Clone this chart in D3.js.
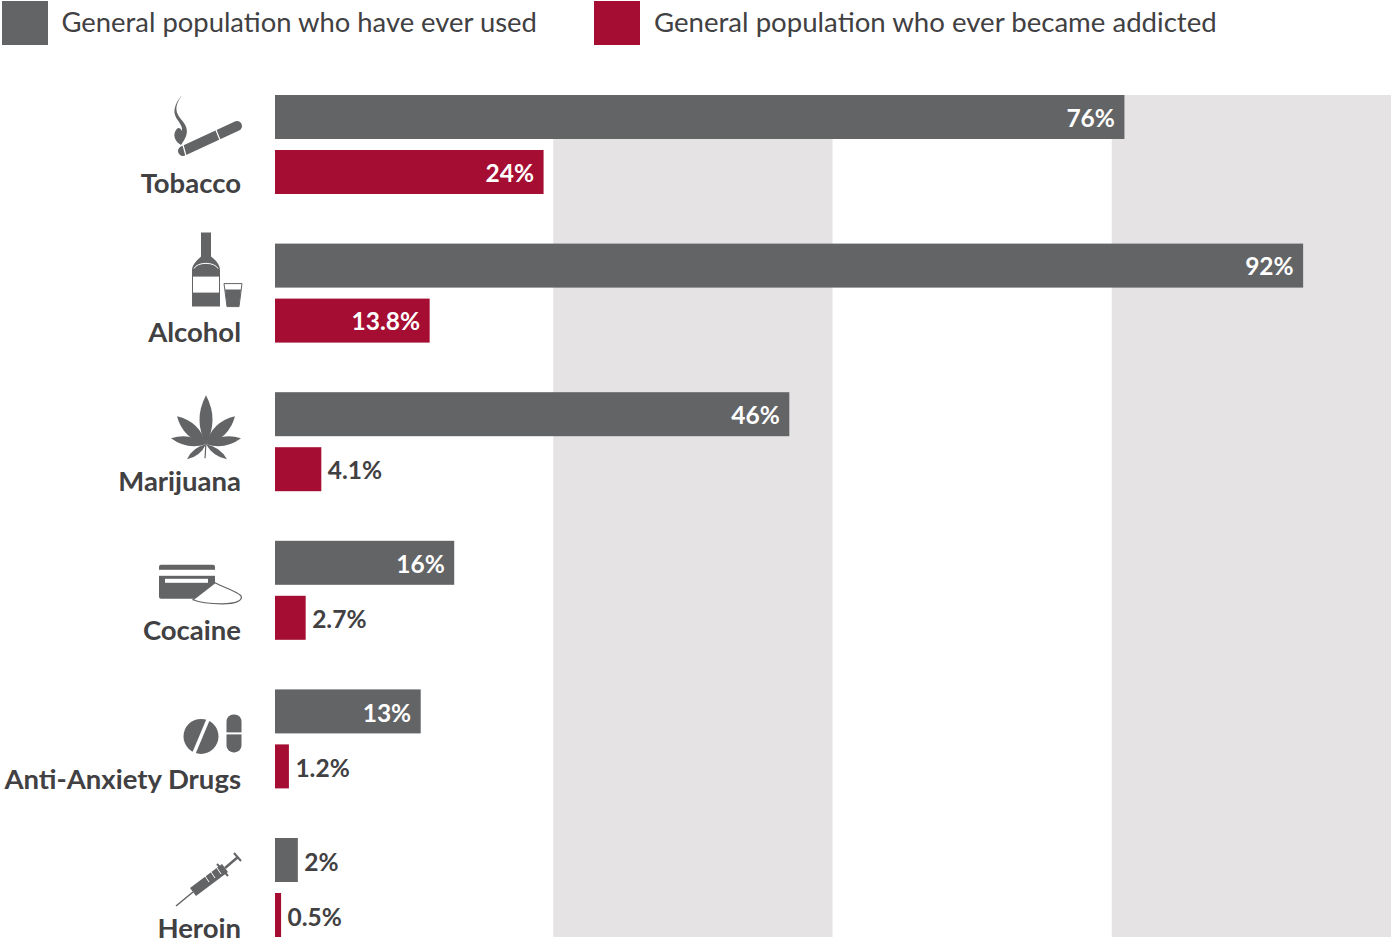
<!DOCTYPE html>
<html>
<head>
<meta charset="utf-8">
<title>Ever used and ever addicted</title>
<script src="https://cdnjs.cloudflare.com/ajax/libs/d3/7.8.5/d3.min.js"></script>
<style>
  html, body { margin: 0; padding: 0; background: #fff; }
  svg { display: block; }
  text { font-family: Lato, "Open Sans", sans-serif; }
</style>
</head>
<body>
<div id="chart"></div>
<script>
var categories = ["Tobacco", "Alcohol", "Marijuana", "Cocaine", "Anti-Anxiety Drugs", "Heroin"];
var everUsed = [76, 92, 46, 16, 13, 2];
var everAddicted = [24, 13.8, 4.1, 2.7, 1.2, 0.5];
var usedLabels = ["76%", "92%", "46%", "16%", "13%", "2%"];
var addictedLabels = ["24%", "13.8%", "4.1%", "2.7%", "1.2%", "0.5%"];
var seriesNames = ["General population who have ever used", "General population who ever became addicted"];
var bandStarts = [25, 75];
var bandSize = 25;

var grey = "#636466", red = "#a50d33", bandColor = "#e5e3e4", ink = "#414042";

var width = 1393, height = 940;
var svg = d3.select("#chart").append("svg")
  .attr("width", width)
  .attr("height", height);

var x = d3.scaleLinear().domain([0, 100]).range([275, 1392]);
var y = d3.scaleBand().domain(categories).range([95, 95 + 148.6 * 6]);
var inner = d3.scaleBand().domain(["used", "addicted"]).range([0, 99]).paddingInner(0.2);
var bottom = 937;

// background stripes
svg.selectAll("rect.band")
  .data(bandStarts)
  .enter().append("rect")
  .attr("class", "band")
  .attr("x", function(d) { return x(d) - 1; })
  .attr("y", 95)
  .attr("width", function(d) { return x(d + bandSize) - x(d); })
  .attr("height", bottom - 95)
  .attr("fill", bandColor);

// legend
var legendX = [2, 594];
var legend = svg.selectAll("g.legend")
  .data(seriesNames)
  .enter().append("g")
  .attr("class", "legend")
  .attr("transform", function(d, i) { return "translate(" + legendX[i] + ",1)"; });
legend.append("rect")
  .attr("width", 46)
  .attr("height", 44)
  .attr("fill", function(d, i) { return i == 0 ? grey : red; });
legend.append("text")
  .attr("x", function(d, i) { return i == 0 ? 59.5 : 60; })
  .attr("y", 31)
  .attr("font-size", function(d, i) { return i == 0 ? 27.4 : 27.6; })
  .attr("fill", ink)
  .text(function(d) { return d; });

// bars
function drawBars(values, labels, key, color) {
  var rows = svg.selectAll("g." + key)
    .data(categories)
    .enter().append("g")
    .attr("class", key)
    .attr("transform", function(d) { return "translate(0," + (y(d) + inner(key)) + ")"; });
  rows.append("rect")
    .attr("x", x(0))
    .attr("width", function(d, i) { return x(values[i]) - x(0) + 0.5; })
    .attr("height", inner.bandwidth())
    .attr("fill", color);
  rows.append("text")
    .attr("x", function(d, i) {
      return values[i] > 10 ? x(values[i]) - 9 : x(values[i]) + 7;
    })
    .attr("y", function(d, i) { return inner.bandwidth() / 2 + 9.5 + i * 0.3; })
    .attr("text-anchor", function(d, i) { return values[i] > 10 ? "end" : "start"; })
    .attr("font-size", 24.5)
    .attr("font-weight", 700)
    .attr("fill", function(d, i) { return values[i] > 10 ? "#fff" : ink; })
    .text(function(d, i) { return labels[i]; });
}
drawBars(everUsed, usedLabels, "used", grey);
drawBars(everAddicted, addictedLabels, "addicted", red);

// category names
svg.selectAll("text.cat")
  .data(categories)
  .enter().append("text")
  .attr("class", "cat")
  .attr("x", 241)
  .attr("y", function(d, i) { return y(d) + 98 + i * 0.3; })
  .attr("text-anchor", "end")
  .attr("font-size", 27.5)
  .attr("font-weight", 700)
  .attr("fill", ink)
  .text(function(d) { return d; });

// icons, local y is relative to the top of the row
var icons = {};

icons["Tobacco"] = function(g) {
  g.append("path").attr("d", "M183 56 L237 31").attr("stroke", grey)
    .attr("stroke-width", 10).attr("stroke-linecap", "round").attr("fill", "none");
  g.append("path").attr("d", "M183 50 L186 61 M216 35 L220 45").attr("stroke", "#fff").attr("stroke-width", 1.2);
  g.append("path")
    .attr("d", "M182 0 C176 9 174 15 180 23 C188 32 190 38 181 50 C176 47 173 42 175 37 C177 32 180 32 182 36 C183 30 177 26 175 20 C173 13 177 6 182 0 Z")
    .attr("fill", grey);
};

icons["Alcohol"] = function(g) {
  g.append("path")
    .attr("d", "M201 -11 H211 V13 C216 17 220 21 220 27 V63 H192 V27 C192 21 197 17 201 13 Z")
    .attr("fill", grey);
  g.append("path").attr("d", "M194 25 C197 18 215 18 218 25").attr("fill", "none").attr("stroke", "#fff").attr("stroke-width", 1);
  g.append("rect").attr("x", 193).attr("y", 33).attr("width", 26).attr("height", 16).attr("fill", "#fff");
  g.append("path").attr("d", "M224 40 H242 L239 63 H227 Z").attr("fill", "#fff").attr("stroke", grey).attr("stroke-width", 1);
  g.append("path").attr("d", "M225 46 H241 L239 63 H227 Z").attr("fill", grey);
};

icons["Marijuana"] = function(g) {
  var tips = [[206, 3], [177, 24], [235, 24], [171, 46], [241, 46], [187, 67], [227, 67]];
  var widths = [13, 12, 12, 9, 9, 6, 6];
  tips.forEach(function(t, i) {
    var cx = 206, cy = 52;
    var dx = t[0] - cx, dy = t[1] - cy;
    var nx = -dy / Math.hypot(dx, dy) * widths[i], ny = dx / Math.hypot(dx, dy) * widths[i];
    var mx = cx + dx * 0.5, my = cy + dy * 0.5;
    g.append("path")
      .attr("d", "M" + cx + " " + cy + " Q" + (mx + nx) + " " + (my + ny) + " " + t[0] + " " + t[1] +
        " Q" + (mx - nx) + " " + (my - ny) + " " + cx + " " + cy + " Z")
      .attr("fill", grey);
  });
  g.append("path").attr("d", "M206 50 L205 66").attr("stroke", grey).attr("stroke-width", 1.2);
};

icons["Cocaine"] = function(g) {
  g.append("rect").attr("x", 159).attr("y", 24).attr("width", 56).attr("height", 34).attr("rx", 2).attr("fill", grey);
  g.append("rect").attr("x", 159).attr("y", 29).attr("width", 56).attr("height", 6).attr("fill", "#fff");
  g.append("rect").attr("x", 165).attr("y", 38).attr("width", 43).attr("height", 4).attr("fill", "#fff");
  g.append("path").attr("d", "M193 59 L215 42 C224 47 234 49 241 55 C243 60 236 63 222 63 C210 63 200 62 193 59 Z")
    .attr("fill", "#fff").attr("stroke", grey).attr("stroke-width", 1.2);
};

icons["Anti-Anxiety Drugs"] = function(g) {
  g.append("circle").attr("cx", 201).attr("cy", 47).attr("r", 17.5).attr("fill", grey);
  g.append("path").attr("d", "M209 28 L193 66").attr("stroke", "#fff").attr("stroke-width", 3.5);
  g.append("rect").attr("x", 226.5).attr("y", 25).attr("width", 15).attr("height", 38).attr("rx", 7).attr("fill", grey);
  g.append("rect").attr("x", 226).attr("y", 43).attr("width", 16).attr("height", 2).attr("fill", "#fff");
};

icons["Heroin"] = function(g) {
  g.append("path").attr("d", "M176 68 L193 54").attr("stroke", grey).attr("stroke-width", 1.5);
  g.append("path").attr("d", "M193 54 L225 30").attr("stroke", grey).attr("stroke-width", 10);
  g.append("path").attr("d", "M205 38 L209 44 M211 34 L215 40 M217 30 L221 36").attr("stroke", "#fff").attr("stroke-width", 1);
  g.append("path").attr("d", "M225 30 L238 19").attr("stroke", grey).attr("stroke-width", 2.5);
  g.append("path").attr("d", "M217 26 L228 38 M234 15 L241 23").attr("stroke", grey).attr("stroke-width", 2);
};

categories.forEach(function(c) {
  var g = svg.append("g").attr("transform", "translate(0," + y(c) + ")");
  icons[c](g);
});
</script>
</body>
</html>
